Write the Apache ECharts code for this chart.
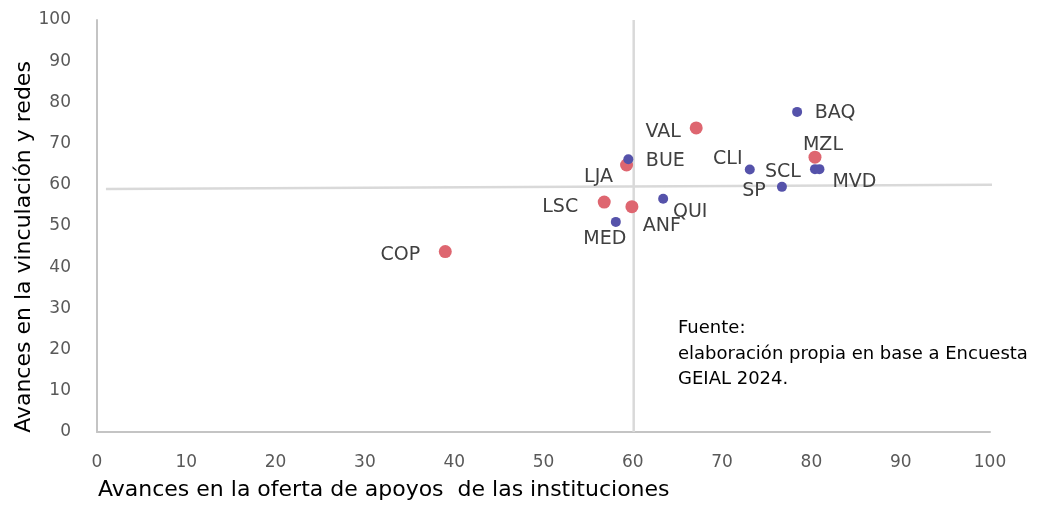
<!DOCTYPE html>
<html>
<head>
<meta charset="utf-8">
<script src="https://cdn.jsdelivr.net/npm/echarts@6/dist/echarts.min.js"></script>
<style>
  html, body { margin: 0; padding: 0; background: #ffffff; }
  #chart { width: 1043px; height: 505px; }
</style>
</head>
<body>
<div id="chart"></div>
<script>
// Cities, their two progress indices and the group each belongs to
const cities = ['BAQ', 'CLI', 'SCL', 'MVD', 'SP', 'BUE', 'QUI', 'MED',
                'VAL', 'MZL', 'LJA', 'LSC', 'ANF', 'COP'];
const ofertaApoyos = [78.4, 73.1, 80.4, 80.9, 76.7, 59.5, 63.4, 58.1,
                      67.1, 80.4, 59.3, 56.8, 59.9, 39.0];
const vinculacionRedes = [77.7, 63.7, 63.8, 63.8, 59.5, 66.2, 56.6, 51.0,
                          73.8, 66.7, 64.8, 55.8, 54.7, 43.8];
const grupo = ['A', 'A', 'A', 'A', 'A', 'A', 'A', 'A',
               'B', 'B', 'B', 'B', 'B', 'B'];

// Quadrant reference lines (x, y endpoints)
const refHorizontal = [[1.0, 59.0], [101.4, 60.0]];
const refVertical = [[60.1, 0], [60.1, 100]];

const axisTicks = [0, 10, 20, 30, 40, 50, 60, 70, 80, 90, 100];

// Label placement: offset of each label centre from its marker
const labelOffsets = {
  BAQ: [38, 1], CLI: [-22, -10], SCL: [-32, 3], MVD: [35, 13],
  SP: [-28, 4], BUE: [37, 2], QUI: [27, 13], MED: [-11, 17],
  VAL: [-33, 4], MZL: [8, -12], LJA: [-28, 12], LSC: [-44, 5],
  ANF: [30, 19], COP: [-45, 4]
};

const FONT = 'DejaVu Sans';

function pointsFor(g) {
  const out = [];
  cities.forEach((c, i) => {
    if (grupo[i] !== g) return;
    out.push({
      name: c,
      value: [ofertaApoyos[i], vinculacionRedes[i]],
      label: { offset: labelOffsets[c] }
    });
  });
  return out;
}

const labelStyle = {
  show: true,
  position: 'inside',
  formatter: p => p.name,
  color: '#404040',
  fontFamily: FONT,
  fontSize: 19,
  align: 'center',
  verticalAlign: 'middle'
};

const chart = echarts.init(document.getElementById('chart'), null, { renderer: 'canvas' });

chart.setOption({
  animation: false,
  backgroundColor: '#ffffff',
  grid: { left: 97, right: 53, top: 20, bottom: 73 },
  xAxis: {
    type: 'value',
    min: axisTicks[0],
    max: axisTicks[axisTicks.length - 1],
    interval: 10,
    axisLine: { show: true, lineStyle: { color: '#C4C4C4', width: 2 } },
    axisTick: { show: false },
    splitLine: { show: false },
    axisLabel: { color: '#595959', fontFamily: FONT, fontSize: 17, margin: 22 }
  },
  yAxis: {
    type: 'value',
    min: axisTicks[0],
    max: axisTicks[axisTicks.length - 1],
    interval: 10,
    axisLine: { show: true, lineStyle: { color: '#C4C4C4', width: 2 } },
    axisTick: { show: false },
    splitLine: { show: false },
    axisLabel: { color: '#595959', fontFamily: FONT, fontSize: 17, margin: 26 }
  },
  series: [
    {
      type: 'line',
      data: refHorizontal,
      symbol: 'none',
      clip: false,
      silent: true,
      lineStyle: { color: '#D9D9D9', width: 2.5 },
      z: 1
    },
    {
      type: 'line',
      data: refVertical,
      symbol: 'none',
      clip: false,
      silent: true,
      lineStyle: { color: '#D9D9D9', width: 2.5 },
      z: 1
    },
    {
      type: 'scatter',
      data: pointsFor('A'),
      symbolSize: 10,
      itemStyle: { color: '#5552AA', opacity: 1 },
      label: labelStyle,
      z: 3
    },
    {
      type: 'scatter',
      data: pointsFor('B'),
      symbolSize: 13,
      itemStyle: { color: '#DE6670', opacity: 1 },
      label: labelStyle,
      z: 2
    }
  ],
  graphic: [
    {
      type: 'text',
      left: 98,
      top: 479,
      style: {
        text: 'Avances en la oferta de apoyos  de las instituciones',
        fill: '#000000',
        font: '22px "' + FONT + '"'
      }
    },
    {
      type: 'text',
      x: 24,
      y: 247,
      rotation: Math.PI / 2,
      style: {
        text: 'Avances en la vinculación y redes',
        fill: '#000000',
        font: '22px "' + FONT + '"',
        align: 'center',
        verticalAlign: 'middle'
      }
    },
    {
      type: 'text',
      left: 678,
      top: 316,
      style: {
        text: 'Fuente:\nelaboración propia en base a Encuesta\nGEIAL 2024.',
        fill: '#000000',
        font: '18px "' + FONT + '"',
        lineHeight: 25.5
      }
    }
  ]
});
</script>
</body>
</html>
